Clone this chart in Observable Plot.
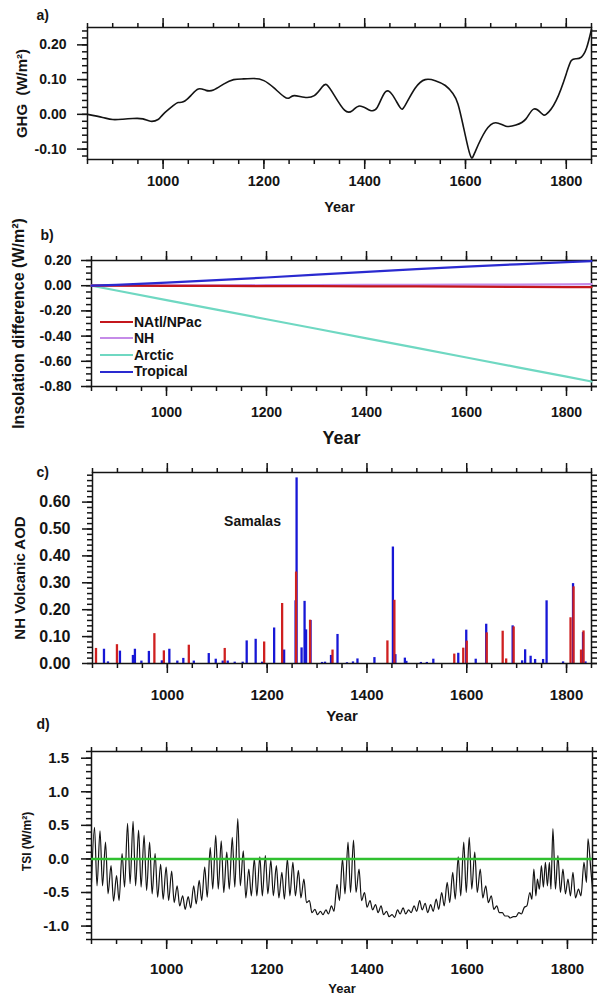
<!DOCTYPE html>
<html><head><meta charset="utf-8">
<script src="https://cdn.jsdelivr.net/npm/d3@7"></script>
<script src="https://cdn.jsdelivr.net/npm/@observablehq/plot@0.6"></script>
<style>
body{margin:0;background:#fff;}
#wrap{position:relative;width:597px;height:996px;overflow:hidden;background:#fff;font-family:"Liberation Sans",Arial,sans-serif;}
#wrap > svg{position:absolute;left:0;}
.legend{position:absolute;font-weight:bold;font-size:14px;color:#111;}
.legend .row{height:16.6px;line-height:16.6px;display:flex;align-items:center;white-space:nowrap;}
.legend .sw{display:inline-block;width:33px;height:2px;margin-right:1px;}
</style></head><body><div id="wrap"></div>
<script>
// ---------- data ----------
const X_MAJOR = [1000, 1200, 1400, 1600, 1800];
const X_MINOR = [850, 900, 950, 1000, 1050, 1100, 1150, 1200, 1250, 1300, 1350, 1400, 1450, 1500, 1550, 1600, 1650, 1700, 1750, 1800, 1850];

// a) GHG forcing
const ghgYears = [850, 880, 900, 920, 940, 960, 975, 990, 1000, 1020, 1030, 1040, 1055, 1070, 1085, 1100, 1120, 1140, 1160, 1180, 1200, 1220, 1240, 1250, 1260, 1280, 1300, 1315, 1325, 1340, 1360, 1375, 1390, 1410, 1425, 1440, 1455, 1470, 1480, 1500, 1520, 1540, 1560, 1575, 1585, 1595, 1605, 1612, 1620, 1640, 1660, 1680, 1700, 1720, 1735, 1750, 1760, 1780, 1800, 1810, 1820, 1830, 1840, 1850];
const ghgValues = [0.000, -0.009, -0.015, -0.014, -0.012, -0.013, -0.020, -0.015, 0.000, 0.025, 0.034, 0.036, 0.054, 0.073, 0.069, 0.070, 0.087, 0.100, 0.102, 0.103, 0.097, 0.076, 0.051, 0.047, 0.054, 0.049, 0.054, 0.078, 0.085, 0.054, 0.012, 0.010, 0.024, 0.012, 0.020, 0.063, 0.056, 0.020, 0.025, 0.075, 0.100, 0.097, 0.083, 0.060, 0.030, -0.030, -0.095, -0.125, -0.105, -0.047, -0.024, -0.034, -0.031, -0.013, 0.015, 0.004, 0.000, 0.040, 0.117, 0.155, 0.160, 0.165, 0.190, 0.245];

// b) insolation difference
const insYears = [850, 900, 1000, 1100, 1200, 1300, 1400, 1500, 1600, 1700, 1800, 1850];
const insNAtl = [0, 0, -0.001, -0.002, -0.003, -0.004, -0.005, -0.006, -0.008, -0.009, -0.011, -0.012];
const insNH = [0, 0.001, 0.002, 0.003, 0.004, 0.005, 0.006, 0.007, 0.008, 0.009, 0.011, 0.012];
const insArctic = [0, -0.038, -0.114, -0.19, -0.266, -0.342, -0.418, -0.494, -0.57, -0.646, -0.722, -0.76];
const insTropical = [0, 0.007, 0.025, 0.045, 0.065, 0.088, 0.11, 0.131, 0.152, 0.17, 0.187, 0.195];
const insSeries = ["NAtl/NPac", "NH", "Arctic", "Tropical"];
const insColors = ["#c4161c", "#c58be8", "#6fd8c2", "#2a2ad0"];

// c) NH volcanic AOD (two reconstructions)
const blueYears = [873, 881, 905, 931, 935, 948, 963, 989, 1004, 1020, 1032, 1053, 1083, 1097, 1111, 1121, 1135, 1151, 1159, 1177, 1190, 1214, 1234, 1257, 1259, 1269, 1275, 1278, 1287, 1310, 1316, 1328, 1341, 1360, 1372, 1381, 1415, 1452, 1457, 1476, 1479, 1508, 1520, 1533, 1583, 1599, 1618, 1639, 1692, 1711, 1717, 1728, 1737, 1753, 1760, 1793, 1813, 1833, 1838];
const blueAOD = [0.053, 0.006, 0.046, 0.030, 0.053, 0.009, 0.045, 0.010, 0.053, 0.009, 0.019, 0.009, 0.037, 0.016, 0.009, 0.009, 0.005, 0.005, 0.084, 0.090, 0.005, 0.132, 0.050, 0.233, 0.690, 0.058, 0.231, 0.125, 0.160, 0.004, 0.005, 0.030, 0.108, 0.003, 0.006, 0.017, 0.022, 0.433, 0.033, 0.020, 0.008, 0.004, 0.004, 0.016, 0.038, 0.124, 0.016, 0.146, 0.140, 0.010, 0.051, 0.027, 0.015, 0.015, 0.233, 0.006, 0.297, 0.115, 0.006];
const redYears = [857, 899, 974, 993, 1043, 1115, 1194, 1230, 1258, 1286, 1331, 1441, 1455, 1575, 1593, 1600, 1640, 1672, 1679, 1694, 1808, 1814, 1829, 1834];
const redAOD = [0.056, 0.070, 0.111, 0.047, 0.068, 0.056, 0.080, 0.223, 0.340, 0.161, 0.050, 0.084, 0.235, 0.035, 0.057, 0.083, 0.114, 0.120, 0.017, 0.136, 0.170, 0.285, 0.050, 0.121];

// d) TSI anomaly (peaks and troughs of the solar cycles)
const tsiYears = [850, 856, 861, 867, 872, 878, 883, 889, 894, 900, 905, 911, 916, 922, 927, 933, 938, 944, 949, 955, 960, 966, 971, 977, 982, 988, 993, 999, 1004, 1010, 1015, 1021, 1026, 1032, 1037, 1043, 1048, 1054, 1059, 1065, 1070, 1076, 1081, 1087, 1092, 1098, 1103, 1109, 1114, 1120, 1125, 1131, 1136, 1142, 1147, 1153, 1158, 1164, 1169, 1175, 1180, 1186, 1191, 1197, 1202, 1208, 1213, 1219, 1224, 1230, 1235, 1241, 1246, 1252, 1257, 1263, 1268, 1274, 1279, 1285, 1290, 1296, 1301, 1307, 1312, 1318, 1323, 1329, 1334, 1340, 1345, 1351, 1356, 1362, 1367, 1373, 1378, 1384, 1389, 1395, 1400, 1406, 1411, 1417, 1422, 1428, 1433, 1439, 1444, 1450, 1455, 1461, 1466, 1472, 1477, 1483, 1488, 1494, 1499, 1505, 1510, 1516, 1521, 1527, 1532, 1538, 1543, 1549, 1554, 1560, 1565, 1571, 1576, 1582, 1587, 1593, 1598, 1604, 1609, 1615, 1620, 1626, 1631, 1637, 1642, 1648, 1653, 1659, 1664, 1670, 1675, 1681, 1686, 1692, 1697, 1703, 1708, 1714, 1719, 1725, 1729, 1733, 1737, 1740, 1744, 1748, 1752, 1756, 1760, 1764, 1767, 1771, 1776, 1781, 1786, 1791, 1796, 1801, 1806, 1811, 1816, 1822, 1827, 1833, 1838, 1841, 1846, 1850];
const tsiValues = [-0.35, 0.47, -0.40, 0.42, -0.40, 0.25, -0.52, -0.10, -0.63, -0.25, -0.62, 0.08, -0.42, 0.53, -0.37, 0.56, -0.40, 0.43, -0.42, 0.35, -0.47, 0.25, -0.52, 0.08, -0.57, -0.08, -0.60, -0.12, -0.62, -0.18, -0.65, -0.40, -0.70, -0.55, -0.75, -0.56, -0.73, -0.40, -0.67, -0.32, -0.62, -0.12, -0.57, 0.17, -0.45, 0.35, -0.45, 0.27, -0.50, 0.10, -0.45, 0.32, -0.42, 0.60, -0.40, 0.12, -0.58, -0.15, -0.55, 0.00, -0.55, 0.03, -0.55, 0.05, -0.52, -0.02, -0.55, -0.10, -0.58, -0.20, -0.60, 0.00, -0.55, -0.05, -0.55, -0.17, -0.58, -0.30, -0.65, -0.62, -0.80, -0.75, -0.83, -0.78, -0.83, -0.76, -0.82, -0.70, -0.78, -0.38, -0.62, 0.00, -0.52, 0.25, -0.50, 0.28, -0.50, -0.15, -0.62, -0.50, -0.72, -0.62, -0.76, -0.68, -0.80, -0.70, -0.83, -0.78, -0.86, -0.83, -0.87, -0.76, -0.82, -0.73, -0.82, -0.76, -0.80, -0.70, -0.78, -0.62, -0.76, -0.66, -0.80, -0.68, -0.78, -0.60, -0.75, -0.50, -0.70, -0.35, -0.65, -0.20, -0.60, 0.03, -0.55, 0.25, -0.50, 0.32, -0.45, 0.10, -0.50, -0.15, -0.58, -0.40, -0.65, -0.55, -0.75, -0.70, -0.80, -0.80, -0.85, -0.85, -0.88, -0.86, -0.86, -0.80, -0.82, -0.72, -0.70, -0.50, -0.60, -0.15, -0.55, -0.30, -0.45, -0.10, -0.42, -0.05, -0.40, -0.05, -0.45, 0.45, -0.45, 0.05, -0.50, -0.15, -0.52, -0.30, -0.55, -0.20, -0.58, -0.45, -0.55, -0.05, -0.35, 0.30, -0.10, -0.45];

// ---------- helpers ----------
const FONT = "Liberation Sans, Arial, Helvetica, sans-serif";
const INK = "#141414";
const blank = () => "";
function axes({yMajor, yMinor, yFmt, xPad, yPad, xfs, yfs}) {
  const common = {stroke: INK, strokeWidth: 1.5, label: null};
  return [
    Plot.axisX(X_MINOR, {...common, anchor: "bottom", tickSize: 5, tickFormat: blank}),
    Plot.axisX(X_MAJOR, {...common, anchor: "bottom", tickSize: 10, tickPadding: xPad, tickFormat: d => String(d), fontSize: xfs, fontWeight: "bold", fill: INK}),
    Plot.axisX(X_MINOR, {...common, anchor: "top", tickSize: 5, tickFormat: blank}),
    Plot.axisX(X_MAJOR, {...common, anchor: "top", tickSize: 10, tickFormat: blank}),
    Plot.axisY(yMinor, {...common, anchor: "left", tickSize: 5, tickFormat: blank}),
    Plot.axisY(yMajor, {...common, anchor: "left", tickSize: 10, tickPadding: yPad, tickFormat: yFmt, fontSize: yfs, fontWeight: "bold", fill: INK}),
    Plot.axisY(yMinor, {...common, anchor: "right", tickSize: 5, tickFormat: blank}),
    Plot.axisY(yMajor, {...common, anchor: "right", tickSize: 10, tickFormat: blank}),
    Plot.frame({stroke: INK, strokeWidth: 1.5})
  ];
}
const steps = (a, b, s) => d3.range(Math.round(a / s), Math.round(b / s) + 1).map(i => +(i * s).toFixed(4));
const lbl = (t, o) => Plot.text([t], {text: d => d, fill: INK, fontWeight: "bold", lineAnchor: "middle", ...o});
const ylbl = (t, o) => lbl(t, {frameAnchor: "left", rotate: -90, textAnchor: "middle", ...o});
const wrap = document.getElementById("wrap");
function place(svg, top) { svg.style.top = top + "px"; svg.style.position = "absolute"; svg.style.left = "0px"; wrap.appendChild(svg); }
const baseStyle = {fontFamily: FONT, background: "transparent", color: INK, overflow: "visible"};

// ---------- panel a ----------
const ghg = ghgYears.map((y, i) => ({year: y, value: ghgValues[i]}));
place(Plot.plot({
  width: 597, height: 220, marginTop: 27, marginBottom: 61, marginLeft: 87, marginRight: 6,
  x: {domain: [850, 1850], axis: null}, y: {domain: [-0.13, 0.25], axis: null},
  style: baseStyle,
  marks: [
    ...axes({yMajor: [-0.1, 0, 0.1, 0.2], yMinor: steps(-0.12, 0.24, 0.02), yFmt: d => d.toFixed(2), xPad: 6, yPad: 11, xfs: 14.5, yfs: 14}),
    Plot.line(ghg, {x: "year", y: "value", curve: "natural", stroke: INK, strokeWidth: 1.6}),
    lbl("a)", {frameAnchor: "top-left", textAnchor: "start", dx: -51, dy: -12, fontSize: 14}),
    lbl("Year", {frameAnchor: "bottom", dy: 48, fontSize: 14.5}),
    ylbl("GHG  (W/m²)", {dx: -65, fontSize: 15})
  ]
}), 0);

// ---------- panel b ----------
const insData = [];
const insCols = [insNAtl, insNH, insArctic, insTropical];
[2, 1, 0, 3].forEach(k => insYears.forEach((y, i) => insData.push({year: y, value: insCols[k][i], series: insSeries[k]})));
place(Plot.plot({
  width: 597, height: 230, marginTop: 40, marginBottom: 64, marginLeft: 91, marginRight: 6,
  x: {domain: [850, 1850], axis: null}, y: {domain: [-0.8, 0.2], axis: null},
  color: {domain: insSeries, range: insColors},
  style: baseStyle,
  marks: [
    ...axes({yMajor: [-0.8, -0.6, -0.4, -0.2, 0, 0.2], yMinor: steps(-0.8, 0.2, 0.05), yFmt: d => d.toFixed(2), xPad: 11, yPad: 10, xfs: 14, yfs: 14}),
    Plot.line(insData, {x: "year", y: "value", z: "series", stroke: "series", strokeWidth: 2.2}),
    lbl("b)", {frameAnchor: "top-left", textAnchor: "start", dx: -51, dy: -25, fontSize: 14}),
    lbl("Year", {frameAnchor: "bottom", dy: 52, fontSize: 18}),
    ylbl("Insolation difference (W/m²)", {dx: -73, fontSize: 16})
  ]
}), 220);
// legend for panel b
const leg = document.createElement("div");
leg.className = "legend";
leg.style.left = "100px"; leg.style.top = "313.5px";
insSeries.forEach((s, i) => {
  const r = document.createElement("div"); r.className = "row";
  const sw = document.createElement("span"); sw.className = "sw"; sw.style.background = insColors[i];
  r.appendChild(sw); r.appendChild(document.createTextNode(s)); leg.appendChild(r);
});
wrap.appendChild(leg);

// ---------- panel c ----------
const blue = blueYears.map((y, i) => ({year: y, aod: blueAOD[i]}));
const red = redYears.map((y, i) => ({year: y, aod: redAOD[i]}));
place(Plot.plot({
  width: 597, height: 285, marginTop: 22, marginBottom: 72, marginLeft: 92, marginRight: 6,
  x: {domain: [850, 1850], axis: null}, y: {domain: [0, 0.71], axis: null},
  style: baseStyle,
  marks: [
    Plot.ruleX(blue, {x: "year", y1: 0, y2: "aod", stroke: "#1717d6", strokeWidth: 2.3}),
    Plot.ruleX(red, {x: "year", y1: 0, y2: "aod", stroke: "#cf2020", strokeWidth: 2.3}),
    ...axes({yMajor: [0, 0.1, 0.2, 0.3, 0.4, 0.5, 0.6], yMinor: steps(0, 0.70, 0.02), yFmt: d => d.toFixed(2), xPad: 16, yPad: 12, xfs: 15, yfs: 16}),
    lbl("Samalas", {frameAnchor: "top-left", textAnchor: "middle", dx: 160, dy: 49, fontSize: 14}),
    lbl("c)", {frameAnchor: "top-left", textAnchor: "start", dx: -56, dy: 0, fontSize: 14}),
    lbl("d)", {frameAnchor: "bottom-left", textAnchor: "start", dx: -56, dy: 61, fontSize: 14}),
    lbl("Year", {frameAnchor: "bottom", dy: 53, fontSize: 15}),
    ylbl("NH Volcanic AOD", {dx: -72, dy: 10, fontSize: 15})
  ]
}), 450);

// ---------- panel d ----------
const tsi = tsiYears.map((y, i) => ({year: y, value: tsiValues[i]}));
place(Plot.plot({
  width: 597, height: 261, marginTop: 16, marginBottom: 57, marginLeft: 91, marginRight: 5,
  x: {domain: [850, 1850], axis: null}, y: {domain: [-1.2, 1.6], axis: null},
  style: baseStyle,
  marks: [
    ...axes({yMajor: [-1, -0.5, 0, 0.5, 1, 1.5], yMinor: steps(-1.2, 1.6, 0.1), yFmt: d => d.toFixed(1), xPad: 13.5, yPad: 12.5, xfs: 15, yfs: 15}),
    Plot.line(tsi, {x: "year", y: "value", curve: "monotone-x", stroke: INK, strokeWidth: 1.2}),
    Plot.ruleY([0], {stroke: "#2fc02f", strokeWidth: 2.5}),
    lbl("Year", {frameAnchor: "bottom", dy: 49, fontSize: 13}),
    ylbl("TSI (W/m²)", {dx: -64, dy: -4, fontSize: 12})
  ]
}), 735);
</script></body></html>
